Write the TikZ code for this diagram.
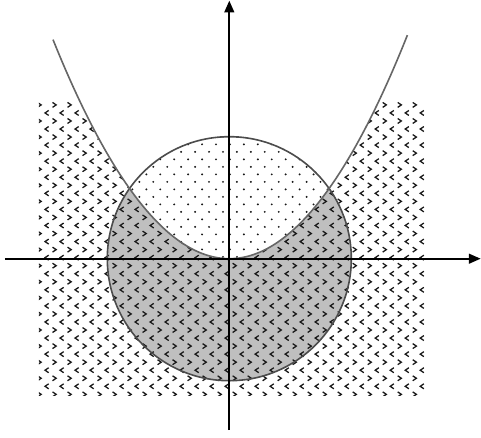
\documentclass[tikz,border=0pt]{standalone}
\usetikzlibrary{patterns,arrows.meta}

% padrão de setas < >
\pgfdeclarepatternformonly{setas}{\pgfqpoint{-0.6pt}{-0.6pt}}{\pgfqpoint{6pt}{6.6pt}}{\pgfqpoint{7pt}{7.5pt}}{%
  \pgfsetlinewidth{0.6pt}
  \pgfpathmoveto{\pgfqpoint{1.7pt}{2.3pt}}
  \pgfpathlineto{\pgfqpoint{0pt}{1.15pt}}
  \pgfpathlineto{\pgfqpoint{1.7pt}{0pt}}
  \pgfpathmoveto{\pgfqpoint{3.5pt}{6.05pt}}
  \pgfpathlineto{\pgfqpoint{5.2pt}{4.9pt}}
  \pgfpathlineto{\pgfqpoint{3.5pt}{3.75pt}}
  \pgfusepath{stroke}
}

% padrão de pontos finos
\pgfdeclarepatternformonly{pontos}{\pgfqpoint{-0.6pt}{-0.6pt}}{\pgfqpoint{4pt}{4.2pt}}{\pgfqpoint{6.5pt}{7pt}}{%
  \pgfpathcircle{\pgfqpoint{0pt}{0pt}}{0.5pt}
  \pgfpathcircle{\pgfqpoint{3.25pt}{3.5pt}}{0.5pt}
  \pgfusepath{fill}
}

\begin{document}
\begin{tikzpicture}[
    fundo/.style={pattern=setas, pattern color=black!90},
    miolo/.style={pattern=pontos, pattern color=black!90},
    eixo/.style={thick, -{Triangle[length=5.5pt,width=4.6pt]}}
  ]

    % dimensões principais
    \def\R{2}          % raio do círculo
    \def\ka{0.43}      % coeficiente da parábola
    \def\xl{-3.12}     % retângulo
    \def\xr{3.2}
    \def\yb{-2.25}
    \def\yt{2.58}

    \useasboundingbox (-3.759,-2.923) rectangle (4.126,4.241);

    % região retangular
    \fill[fundo] (\xl,\yb) rectangle (\xr,\yt);

    % acima da parábola fica branco
    \fill[white] plot[domain=-2.95:2.95, samples=60] (\x,{\ka*\x*\x}) -- cycle;

    % disco: parte de cima com pontos
    \fill[white] (0,0) circle (\R);
    \fill[miolo] (0,0) circle (\R);

    % disco: parte de baixo cinza
    \begin{scope}
      \clip (0,0) circle (\R);
      \fill[black!25] plot[domain=-2.1:2.1, samples=40] (\x,{\ka*\x*\x})
        -- (2.1,-2.1) -- (-2.1,-2.1) -- cycle;
      \fill[fundo] plot[domain=-2.1:2.1, samples=40] (\x,{\ka*\x*\x})
        -- (2.1,-2.1) -- (-2.1,-2.1) -- cycle;
    \end{scope}

    % curvas
    \draw[black!70, line width=0.75pt] (0,0) circle (\R);
    \draw[black!60, line width=0.75pt] plot[domain=-2.89:2.92, samples=80, smooth] (\x,{\ka*\x*\x});

    % eixos
    \draw[eixo] (-3.68,0) -- (4.12,0);
    \draw[eixo] (0,-2.81) -- (0,4.23);

\end{tikzpicture}
\end{document}
